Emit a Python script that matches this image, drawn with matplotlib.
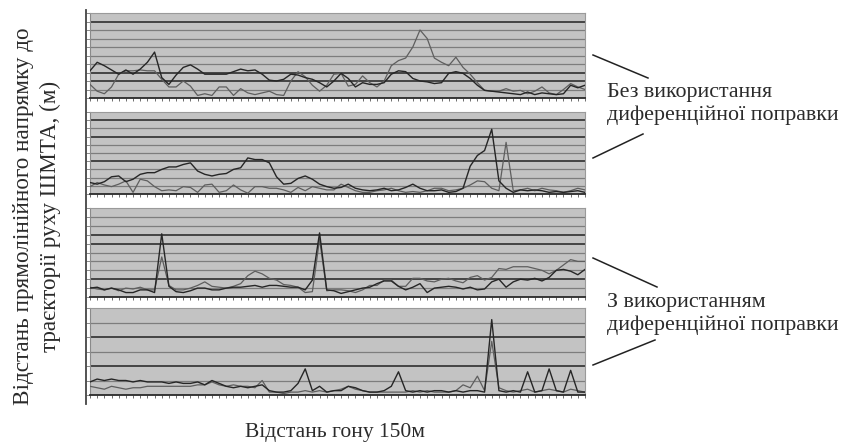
import numpy as np
import matplotlib.pyplot as plt
from matplotlib.lines import Line2D

# відстань гону 150 м, 70 відліків
n_pts = 70
dist = np.linspace(0, 150, n_pts)

# панель 1 - без поправки
p1_a = [3.2, 4.2, 3.8, 3.3, 2.8, 3.3, 2.8, 3.4, 4.2, 5.4, 2.4, 1.6, 2.7, 3.6, 3.9, 3.4, 2.8, 2.8, 2.8, 2.8,
        3.1, 3.4, 3.2, 3.3, 2.8, 2.1, 2.0, 2.2, 2.8, 2.7, 2.4, 2.2, 1.8, 1.3, 2.0, 2.9, 2.3, 1.3, 1.8, 1.6,
        1.6, 1.8, 2.8, 3.2, 3.1, 2.3, 2.0, 1.9, 1.7, 1.8, 2.9, 3.1, 2.9, 2.3, 1.5, 0.9, 0.8, 0.7, 0.6, 0.5,
        0.4, 0.7, 0.4, 0.6, 0.5, 0.4, 0.5, 1.5, 1.2, 1.5]
p1_b = [1.6, 0.8, 0.5, 1.3, 2.8, 3.2, 3.2, 3.3, 3.2, 3.2, 2.2, 1.3, 1.3, 2.0, 1.4, 0.3, 0.5, 0.3, 1.3, 1.3,
        0.3, 1.1, 0.6, 0.4, 0.6, 0.8, 0.4, 0.3, 2.0, 3.1, 2.5, 1.5, 0.8, 1.5, 2.8, 2.9, 1.4, 1.6, 2.6, 1.8,
        1.3, 2.0, 3.8, 4.4, 4.7, 6.0, 8.0, 7.0, 4.7, 4.2, 3.8, 4.8, 3.6, 2.8, 1.8, 0.9, 0.8, 0.8, 1.1, 0.8,
        0.9, 0.5, 0.8, 1.3, 0.6, 0.4, 1.0, 1.7, 1.3, 1.0]

# панель 2 - без поправки
p2_a = [1.4, 1.2, 1.5, 2.1, 2.2, 1.5, 1.8, 2.4, 2.6, 2.6, 3.0, 3.3, 3.3, 3.6, 3.8, 2.8, 2.4, 2.2, 2.4, 2.5,
        3.0, 3.2, 4.4, 4.2, 4.2, 3.8, 2.1, 1.2, 1.3, 1.9, 2.2, 1.8, 1.2, 0.9, 0.7, 0.8, 1.2, 0.7, 0.5, 0.4,
        0.5, 0.7, 0.4, 0.5, 0.8, 1.2, 0.7, 0.4, 0.4, 0.5, 0.2, 0.3, 0.7, 3.4, 4.7, 5.3, 7.9, 1.6, 0.7, 0.2,
        0.5, 0.4, 0.5, 0.4, 0.2, 0.3, 0.2, 0.3, 0.4, 0.2]
p2_b = [0.9, 1.4, 1.1, 0.9, 1.2, 1.6, 0.2, 1.8, 1.6, 0.9, 0.4, 0.5, 0.4, 0.9, 0.8, 0.2, 1.1, 1.2, 0.2, 0.4,
        1.1, 0.5, 0.1, 0.9, 0.9, 0.7, 0.7, 0.5, 0.2, 0.8, 0.4, 0.9, 0.7, 0.5, 0.5, 1.2, 0.8, 0.4, 0.2, 0.2,
        0.4, 0.5, 0.7, 0.4, 0.2, 0.3, 0.2, 0.4, 0.7, 0.7, 0.4, 0.5, 0.7, 1.1, 1.6, 1.5, 0.7, 0.4, 6.3, 0.4,
        0.5, 0.7, 0.4, 0.7, 0.5, 0.4, 0.2, 0.4, 0.7, 0.5]

# панель 3 - з поправкою
p3_a = [1.0, 1.1, 0.8, 1.0, 0.8, 0.5, 0.5, 0.8, 0.8, 0.5, 7.1, 1.2, 0.6, 0.5, 0.7, 1.0, 1.0, 0.8, 0.8, 1.0,
        1.1, 1.1, 1.2, 1.3, 1.1, 1.3, 1.3, 1.2, 1.1, 1.1, 0.8, 1.9, 7.2, 0.8, 0.7, 0.4, 0.6, 0.8, 1.0, 1.1,
        1.5, 1.8, 1.8, 1.2, 0.8, 1.1, 1.5, 0.5, 1.0, 1.1, 1.2, 1.1, 0.9, 1.1, 0.8, 0.9, 1.7, 2.0, 1.1, 1.7,
        2.0, 1.9, 2.1, 1.8, 2.2, 3.0, 3.1, 2.9, 2.5, 3.1]
p3_b = [1.1, 0.9, 0.8, 1.0, 0.7, 1.0, 0.9, 1.1, 0.8, 0.8, 4.5, 1.3, 0.8, 0.8, 1.0, 1.3, 1.7, 1.2, 1.1, 1.0,
        1.2, 1.5, 2.4, 2.9, 2.6, 2.1, 1.9, 1.4, 1.3, 1.1, 0.5, 0.6, 6.5, 0.7, 0.8, 0.8, 0.7, 0.5, 0.8, 1.3,
        1.3, 1.9, 1.9, 1.2, 1.2, 2.1, 2.1, 1.8, 1.7, 2.0, 2.1, 1.8, 1.6, 2.2, 2.4, 1.9, 2.2, 3.2, 3.1, 3.4,
        3.4, 3.4, 3.2, 3.0, 2.6, 3.0, 3.6, 4.2, 4.0, 4.0]

# панель 4 - з поправкою
p4_a = [0.9, 1.1, 1.0, 1.1, 1.0, 1.0, 0.9, 1.0, 0.9, 0.9, 0.9, 0.8, 0.9, 0.8, 0.8, 0.9, 0.7, 1.0, 0.8, 0.6,
        0.5, 0.6, 0.5, 0.6, 0.7, 0.3, 0.2, 0.2, 0.3, 0.8, 1.8, 0.3, 0.6, 0.2, 0.3, 0.3, 0.6, 0.5, 0.3, 0.2,
        0.2, 0.3, 0.6, 1.6, 0.3, 0.2, 0.3, 0.2, 0.3, 0.3, 0.2, 0.3, 0.2, 0.3, 0.3, 0.2, 5.2, 0.3, 0.2, 0.3,
        0.2, 1.6, 0.2, 0.3, 1.8, 0.3, 0.2, 1.7, 0.2, 0.2]
p4_b = [0.6, 0.5, 0.4, 0.6, 0.5, 0.4, 0.5, 0.5, 0.6, 0.6, 0.6, 0.6, 0.6, 0.6, 0.6, 0.7, 0.7, 0.9, 0.7, 0.6,
        0.7, 0.6, 0.6, 0.5, 1.0, 0.2, 0.2, 0.1, 0.2, 0.2, 0.3, 0.2, 0.3, 0.2, 0.3, 0.4, 0.6, 0.4, 0.3, 0.2,
        0.2, 0.2, 0.2, 0.2, 0.2, 0.3, 0.2, 0.3, 0.2, 0.2, 0.2, 0.3, 0.7, 0.5, 1.3, 0.3, 3.7, 0.5, 0.3, 0.2,
        0.3, 0.4, 0.2, 0.3, 0.4, 0.3, 0.2, 0.4, 0.3, 0.2]

panels = [(p1_a, p1_b, 10, [9, 3, 2]),
          (p2_a, p2_b, 10, [9, 7, 4]),
          (p3_a, p3_b, 10, [7, 6, 2]),
          (p4_a, p4_b, 6, [4, 2])]

W, H = 842, 443
# межі сірих областей у пікселях (верх, низ)
boxes = [(13, 98), (112, 194), (208, 297), (308, 395)]
x0, x1 = 90, 585

serif = 'Liberation Serif'
txt_col = '#2b2b2b'

fig = plt.figure(figsize=(W / 100, H / 100), dpi=100)

for (ya, yb, ymax, dark), (top, bot) in zip(panels, boxes):
    ax = fig.add_axes([x0 / W, 1 - bot / H, (x1 - x0) / W, (bot - top) / H])
    ax.set_facecolor('#c3c3c3')
    for g in range(1, ymax):
        if g in dark:
            ax.axhline(g, color='#3a3a3a', lw=1.3, zorder=1)
        else:
            ax.axhline(g, color='#7d7d7d', lw=0.9, zorder=1)
    ax.plot(dist, yb, color='#5e5e5e', lw=0.9, zorder=3)
    ax.plot(dist, ya, color='#262626', lw=1.0, zorder=4)
    ax.set_xlim(dist[0], dist[-1])
    ax.set_ylim(0, ymax)
    ax.set_xticks(dist)
    ax.set_yticks(range(ymax + 1))
    ax.tick_params(axis='x', length=2.5, width=0.6, color='#555555', labelbottom=False)
    ax.tick_params(axis='y', length=3, width=0.6, color='#777777', labelleft=False)
    for s in ['top', 'right']:
        ax.spines[s].set_color('#9a9a9a')
        ax.spines[s].set_linewidth(0.8)
    ax.spines['left'].set_color('#8a8a8a')
    ax.spines['left'].set_linewidth(0.8)
    ax.spines['bottom'].set_color('#2a2a2a')
    ax.spines['bottom'].set_linewidth(1.3)

# ліва рамка
fig.add_artist(Line2D([86 / W, 86 / W], [1 - 10 / H, 1 - 404 / H], color='#444444', lw=1.3))

# підписи осей
fig.text(37 / W, 1 - 216 / H,
         'Відстань прямолінійного напрямку до\nтраєкторії руху ШМТА, (м)',
         rotation=90, ha='center', va='center', family=serif, fontsize=16.7,
         color=txt_col, linespacing=1.3)
fig.text(335 / W, 1 - 432 / H, 'Відстань гону 150м', ha='center', va='center',
         family=serif, fontsize=15.5, color=txt_col)

# пояснення справа
fig.text(607 / W, 1 - 104 / H, 'Без використання\nдиференційної поправки', ha='left', va='center',
         family=serif, fontsize=15.8, color=txt_col, linespacing=1.3)
fig.text(607 / W, 1 - 314 / H, 'З використанням\nдиференційної поправки', ha='left', va='center',
         family=serif, fontsize=15.8, color=txt_col, linespacing=1.3)

for (xa, ya_), (xb, yb_) in [((593, 55), (648, 78)), ((593, 158), (643, 134)),
                             ((593, 258), (657, 287)), ((593, 365), (655, 340))]:
    fig.add_artist(Line2D([xa / W, xb / W], [1 - ya_ / H, 1 - yb_ / H], color='#222222', lw=1.1))

fig.savefig('out.png', dpi=100, facecolor='white')
